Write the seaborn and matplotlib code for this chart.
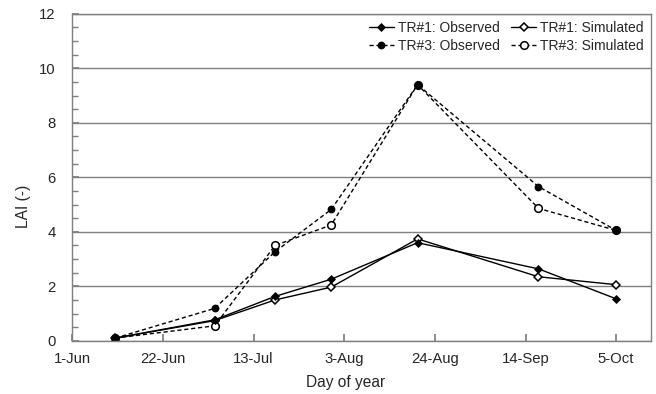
import pandas as pd
import matplotlib
matplotlib.use("Agg")
import matplotlib.pyplot as plt
import matplotlib.dates as mdates
from matplotlib.ticker import MultipleLocator
import seaborn as sns

# ---------------------------------------------------------------------------
# DATA
# ---------------------------------------------------------------------------
dates = ["2015-06-11", "2015-07-04", "2015-07-18", "2015-07-31",
         "2015-08-20", "2015-09-17", "2015-10-05"]
tr1_observed = [0.10, 0.77, 1.63, 2.26, 3.60, 2.64, 1.54]
tr1_simulated = [0.10, 0.74, 1.50, 1.97, 3.74, 2.35, 2.06]
tr3_observed = [0.10, 1.19, 3.27, 4.82, 9.40, 5.66, 4.05]
tr3_simulated = [0.10, 0.55, 3.50, 4.25, 9.40, 4.86, 4.05]
tick_dates = ["2015-06-01", "2015-06-22", "2015-07-13", "2015-08-03",
              "2015-08-24", "2015-09-14", "2015-10-05"]

df = pd.DataFrame({"date": pd.to_datetime(dates),
                   "TR#1: Observed": tr1_observed,
                   "TR#1: Simulated": tr1_simulated,
                   "TR#3: Observed": tr3_observed,
                   "TR#3: Simulated": tr3_simulated})

# ---------------------------------------------------------------------------
# PLOT
# ---------------------------------------------------------------------------
sns.set_theme(style="white")
plt.rcParams["font.family"] = ["Liberation Sans", "DejaVu Sans"]

fig, ax = plt.subplots(figsize=(6.56, 3.94), dpi=100)

# simulated drawn first, observed (filled) on top
styles = {
    "TR#1: Simulated": dict(ls="-", marker="D", ms=4, mfc="white"),
    "TR#3: Simulated": dict(ls=(0, (3, 2)), marker="o", ms=5.5, mfc="white"),
    "TR#1: Observed": dict(ls="-", marker="D", ms=3.5, mfc="black"),
    "TR#3: Observed": dict(ls=(0, (3, 2)), marker="o", ms=4.5, mfc="black"),
}
lines = {}
for name, st in styles.items():
    sns.lineplot(data=df, x="date", y=name, ax=ax, label=name,
                 color="black", lw=1, linestyle=st["ls"], marker=st["marker"],
                 markersize=st["ms"], markerfacecolor=st["mfc"],
                 markeredgecolor="black", markeredgewidth=1.1)
    lines[name] = ax.get_lines()[-1]

ax.set_ylim(0, 12)
ax.set_xlim(pd.Timestamp("2015-06-01"), pd.Timestamp("2015-10-13"))
ax.set_xticks(pd.to_datetime(tick_dates))
ax.xaxis.set_major_formatter(mdates.DateFormatter("%-d-%b"))
ax.yaxis.set_major_locator(MultipleLocator(2))
ax.yaxis.set_minor_locator(MultipleLocator(0.5))
ax.grid(axis="y", which="major", color="#808080", lw=1)
ax.set_axisbelow(True)
ax.tick_params(axis="both", which="both", direction="in", labelsize=10.7,
               color="#808080", bottom=True, left=True)
ax.tick_params(axis="both", which="major", length=5)
ax.tick_params(axis="x", which="major", pad=8)
ax.tick_params(axis="y", which="major", pad=12)
ax.tick_params(axis="y", which="minor", length=4)
for sp in ax.spines.values():
    sp.set_color("#808080")
    sp.set_linewidth(1)

ax.set_xlabel("Day of year", fontsize=11.2)
ax.set_ylabel("LAI (-)", fontsize=11.2)
# labels sit a little off-centre in the original
ax.xaxis.set_label_coords(0.473, -0.104)
ax.yaxis.set_label_coords(-0.072, 0.41)

# row-wise legend: matplotlib fills columns first, so interleave
order = ["TR#1: Observed", "TR#3: Observed", "TR#1: Simulated", "TR#3: Simulated"]
ax.legend([lines[k] for k in order], order, loc="upper right", ncol=2,
          frameon=False, fontsize=10, handlelength=1.8, handletextpad=0.3,
          columnspacing=0.8, labelspacing=0.3, borderaxespad=0.1,
          bbox_to_anchor=(1.0, 1.0))

plt.subplots_adjust(left=0.11, right=0.992, top=0.965, bottom=0.135)
plt.savefig("out.png", dpi=100)
plt.close()
